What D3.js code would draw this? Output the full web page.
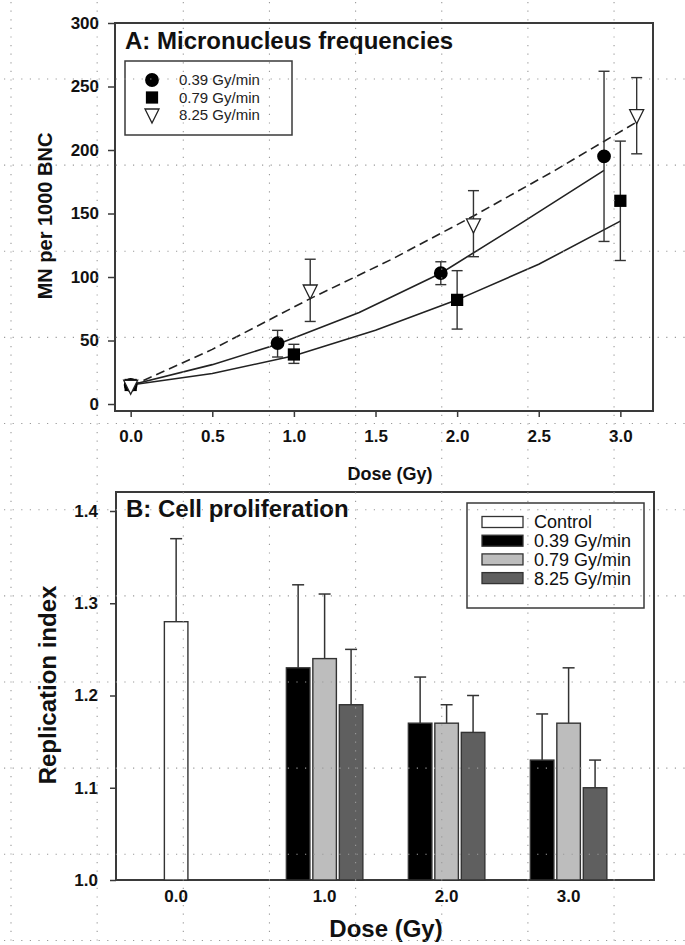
<!DOCTYPE html>
<html>
<head>
<meta charset="utf-8">
<script src="https://cdn.jsdelivr.net/npm/d3@7"></script>
<style>
  html, body { margin: 0; padding: 0; background: #fff; }
  svg { display: block; font-family: "Liberation Sans", Arial, Helvetica, sans-serif; }
</style>
</head>
<body>
<svg id="chart" width="685" height="945"></svg>
<script>
// ---------- Panel A data ----------
const seriesA = ["0.39 Gy/min", "0.79 Gy/min", "8.25 Gy/min"];
const doseA_039 = [0.0, 0.9, 1.9, 2.9];
const mnA_039 = [15, 48, 103, 195];
const errLoA_039 = [13, 37, 94, 128];
const errHiA_039 = [17, 58, 112, 262];
const doseA_079 = [0.0, 1.0, 2.0, 3.0];
const mnA_079 = [15, 39, 82, 160];
const errLoA_079 = [13, 32, 59, 113];
const errHiA_079 = [17, 47, 105, 207];
const doseA_825 = [0.0, 1.1, 2.1, 3.1];
const mnA_825 = [14, 89, 141, 227];
const errLoA_825 = [12, 65, 116, 197];
const errHiA_825 = [16, 114, 168, 257];
// fitted curves
const fitDose_039 = [0, 0.5, 0.9, 1.4, 1.9, 2.4, 2.9];
const fitVal_039 = [15, 31, 47, 72, 103, 143, 184];
const fitDose_079 = [0, 0.5, 1.0, 1.5, 2.0, 2.5, 3.0];
const fitVal_079 = [15, 24, 38, 58, 82, 110, 144];
const fitDose_825 = [0, 0.5, 1.1, 1.6, 2.1, 2.6, 3.1];
const fitVal_825 = [14, 43, 83, 114, 148, 184, 222];
const xTicksA = [0.0, 0.5, 1.0, 1.5, 2.0, 2.5, 3.0];
const yTicksA = [0, 50, 100, 150, 200, 250, 300];

// ---------- Panel B data ----------
const seriesB = ["Control", "0.39 Gy/min", "0.79 Gy/min", "8.25 Gy/min"];
const doseGroupsB = [1, 2, 3];
const riControl = 1.28, riControlErr = 0.09;
const ri039 = [1.23, 1.17, 1.13];
const ri039Err = [0.09, 0.05, 0.05];
const ri079 = [1.24, 1.17, 1.17];
const ri079Err = [0.07, 0.02, 0.06];
const ri825 = [1.19, 1.16, 1.10];
const ri825Err = [0.06, 0.04, 0.03];
const xLabelsB = ["0.0", "1.0", "2.0", "3.0"];
const yTicksB = [1.0, 1.1, 1.2, 1.3, 1.4];

const colorsB = ["#ffffff", "#000000", "#bdbdbd", "#5f5f5f"];
const axisColor = "#3a3a3a";
const svg = d3.select("#chart");

// ================= PANEL A =================
const xA = d3.scaleLinear().domain([-0.096, 3.2]).range([115, 653]);
const yA = d3.scaleLinear().domain([-5.5, 300]).range([411, 23]);

const gA = svg.append("g");
// frame
gA.append("rect").attr("x", xA.range()[0]).attr("y", yA.range()[1])
  .attr("width", xA.range()[1] - xA.range()[0]).attr("height", yA.range()[0] - yA.range()[1])
  .attr("fill", "none").attr("stroke", axisColor).attr("stroke-width", 2);

const yAxisA = d3.axisLeft(yA).tickValues(yTicksA).tickSize(7).tickPadding(9).tickFormat(d3.format("d"));
gA.append("g").attr("transform", `translate(${xA.range()[0]},0)`).call(yAxisA)
  .call(g => g.select(".domain").remove())
  .call(g => g.selectAll("line").attr("stroke", axisColor).attr("stroke-width", 1.5))
  .call(g => g.selectAll("text").attr("fill", "#111").style("font-size", "17px").style("font-weight", "bold"));

const xAxisA = d3.axisBottom(xA).tickValues(xTicksA).tickSize(6).tickPadding(13).tickFormat(d3.format(".1f"));
gA.append("g").attr("transform", `translate(0,${yA.range()[0]})`).call(xAxisA)
  .call(g => g.select(".domain").remove())
  .call(g => g.selectAll("line").attr("stroke", axisColor).attr("stroke-width", 1.5))
  .call(g => g.selectAll("text").attr("fill", "#111").style("font-size", "17px").style("font-weight", "bold"));

// fit lines
const lineA = d3.line().x(d => xA(d[0])).y(d => yA(d[1]));
const fits = [
  {d: fitDose_039, v: fitVal_039, dash: null},
  {d: fitDose_079, v: fitVal_079, dash: null},
  {d: fitDose_825, v: fitVal_825, dash: "9,5"}
];
fits.forEach(f => {
  gA.append("path").datum(d3.zip(f.d, f.v)).attr("d", lineA)
    .attr("fill", "none").attr("stroke", "#222").attr("stroke-width", 1.6)
    .attr("stroke-dasharray", f.dash);
});

// error bars
function errBars(g, xs, lo, hi, capW) {
  xs.forEach((x, i) => {
    const px = xA(x);
    g.append("line").attr("x1", px).attr("x2", px).attr("y1", yA(lo[i])).attr("y2", yA(hi[i]))
      .attr("stroke", "#333").attr("stroke-width", 1.4);
    [lo[i], hi[i]].forEach(v => {
      g.append("line").attr("x1", px - capW / 2).attr("x2", px + capW / 2).attr("y1", yA(v)).attr("y2", yA(v))
        .attr("stroke", "#333").attr("stroke-width", 1.4);
    });
  });
}
errBars(gA, doseA_039, errLoA_039, errHiA_039, 11);
errBars(gA, doseA_079, errLoA_079, errHiA_079, 11);
errBars(gA, doseA_825, errLoA_825, errHiA_825, 11);

// markers
const symCircle = d3.symbol().type(d3.symbolCircle).size(150);
const symSquare = d3.symbol().type(d3.symbolSquare).size(150);
const triPath = "M-7,-6L7,-6L0,8Z";
function markers(g, xs, ys, kind) {
  xs.forEach((x, i) => {
    const t = `translate(${xA(x)},${yA(ys[i])})`;
    if (kind === 0) g.append("path").attr("d", symCircle()).attr("transform", t).attr("fill", "#000");
    else if (kind === 1) g.append("path").attr("d", symSquare()).attr("transform", t).attr("fill", "#000");
    else g.append("path").attr("d", triPath).attr("transform", t).attr("fill", "#fff").attr("stroke", "#222").attr("stroke-width", 1.3);
  });
}
markers(gA, doseA_079, mnA_079, 1);
markers(gA, doseA_039, mnA_039, 0);
markers(gA, doseA_825, mnA_825, 2);

// title
gA.append("text").attr("x", 125).attr("y", 49).text("A: Micronucleus frequencies")
  .style("font-size", "24px").style("font-weight", "bold").attr("fill", "#111");

// legend A
const legA = gA.append("g");
legA.append("rect").attr("x", 125).attr("y", 61).attr("width", 167).attr("height", 74)
  .attr("fill", "#fff").attr("stroke", axisColor).attr("stroke-width", 1.5);
seriesA.forEach((s, i) => {
  const cy = 80 + i * 17.5;
  const t = `translate(152,${cy})`;
  if (i === 0) legA.append("path").attr("d", symCircle()).attr("transform", t).attr("fill", "#000");
  else if (i === 1) legA.append("path").attr("d", symSquare()).attr("transform", t).attr("fill", "#000");
  else legA.append("path").attr("d", triPath).attr("transform", t).attr("fill", "#fff").attr("stroke", "#222").attr("stroke-width", 1.3);
  legA.append("text").attr("x", 179).attr("y", cy).attr("dy", "0.36em").text(s)
    .style("font-size", "15px").attr("fill", "#222");
});

// axis titles A
gA.append("text").attr("x", 390).attr("y", 480).attr("text-anchor", "middle").text("Dose (Gy)")
  .style("font-size", "18px").style("font-weight", "bold").attr("fill", "#111");
gA.append("text").attr("transform", "translate(52,216) rotate(-90)").attr("text-anchor", "middle")
  .text("MN per 1000 BNC").style("font-size", "20px").style("font-weight", "bold").attr("fill", "#111");

// ================= PANEL B =================
const xB = d3.scaleLinear().domain([-0.71, 3.70]).range([116, 654]);
const yB = d3.scaleLinear().domain([1.0, 1.4206]).range([880, 492]);
const slot = 0.217, barW = 0.193;

const gB = svg.append("g");
gB.append("rect").attr("x", xB.range()[0]).attr("y", yB.range()[1])
  .attr("width", xB.range()[1] - xB.range()[0]).attr("height", yB.range()[0] - yB.range()[1])
  .attr("fill", "none").attr("stroke", axisColor).attr("stroke-width", 2);

const yAxisB = d3.axisLeft(yB).tickValues(yTicksB).tickSize(6).tickPadding(12).tickFormat(d3.format(".1f"));
gB.append("g").attr("transform", `translate(${xB.range()[0]},0)`).call(yAxisB)
  .call(g => g.select(".domain").remove())
  .call(g => g.selectAll("line").attr("stroke", axisColor).attr("stroke-width", 1.5))
  .call(g => g.selectAll("text").attr("fill", "#111").style("font-size", "17px").style("font-weight", "bold"));

// bars
const bars = [];
bars.push({x: 0 - slot, v: riControl, e: riControlErr, c: colorsB[0]});
doseGroupsB.forEach((d, i) => {
  bars.push({x: d - slot, v: ri039[i], e: ri039Err[i], c: colorsB[1]});
  bars.push({x: d, v: ri079[i], e: ri079Err[i], c: colorsB[2]});
  bars.push({x: d + slot, v: ri825[i], e: ri825Err[i], c: colorsB[3]});
});
// error bars first (behind bars)
bars.forEach(b => {
  const px = xB(b.x);
  gB.append("line").attr("x1", px).attr("x2", px).attr("y1", yB(b.v)).attr("y2", yB(b.v + b.e))
    .attr("stroke", "#333").attr("stroke-width", 1.5);
  gB.append("line").attr("x1", px - 6).attr("x2", px + 6).attr("y1", yB(b.v + b.e)).attr("y2", yB(b.v + b.e))
    .attr("stroke", "#333").attr("stroke-width", 1.5);
});
bars.forEach(b => {
  const x0 = xB(b.x - barW / 2), x1 = xB(b.x + barW / 2);
  gB.append("rect").attr("x", x0).attr("y", yB(b.v)).attr("width", x1 - x0).attr("height", yB(1.0) - yB(b.v))
    .attr("fill", b.c).attr("stroke", "#333").attr("stroke-width", 1.4);
});

// x labels B
const labelPos = [0 - slot, 1, 2, 3];
xLabelsB.forEach((l, i) => {
  gB.append("text").attr("x", xB(labelPos[i])).attr("y", 902).attr("text-anchor", "middle").text(l)
    .style("font-size", "17px").style("font-weight", "bold").attr("fill", "#111");
});

gB.append("text").attr("x", 126).attr("y", 517).text("B: Cell proliferation")
  .style("font-size", "24px").style("font-weight", "bold").attr("fill", "#111");

// legend B
const legB = gB.append("g");
legB.append("rect").attr("x", 467).attr("y", 503).attr("width", 177).attr("height", 105)
  .attr("fill", "#fff").attr("stroke", axisColor).attr("stroke-width", 1.5);
seriesB.forEach((s, i) => {
  const cy = 522 + i * 18.7;
  legB.append("rect").attr("x", 482).attr("y", cy - 5.5).attr("width", 41).attr("height", 11)
    .attr("fill", colorsB[i]).attr("stroke", "#333").attr("stroke-width", 1.3);
  legB.append("text").attr("x", 534).attr("y", cy).attr("dy", "0.36em").text(s)
    .style("font-size", "18px").attr("fill", "#111");
});

gB.append("text").attr("x", 386).attr("y", 937).attr("text-anchor", "middle").text("Dose (Gy)")
  .style("font-size", "24px").style("font-weight", "bold").attr("fill", "#111");
gB.append("text").attr("transform", "translate(56,685) rotate(-90)").attr("text-anchor", "middle")
  .text("Replication index").style("font-size", "24px").style("font-weight", "bold").attr("fill", "#111");

// ================= dotted page grid overlay =================
const gridX = d3.range(11, 685, 86.15);
const gridY = d3.range(-7.2, 945, 86.15);
const gG = svg.append("g").attr("stroke", "#9a9a9a").attr("stroke-width", 1.1).attr("stroke-dasharray", "1.2,7.4");
gridX.forEach(x => gG.append("line").attr("x1", x).attr("x2", x).attr("y1", 2).attr("y2", 945));
gridY.forEach(y => gG.append("line").attr("x1", 4).attr("x2", 685).attr("y1", y).attr("y2", y));
</script>
</body>
</html>
